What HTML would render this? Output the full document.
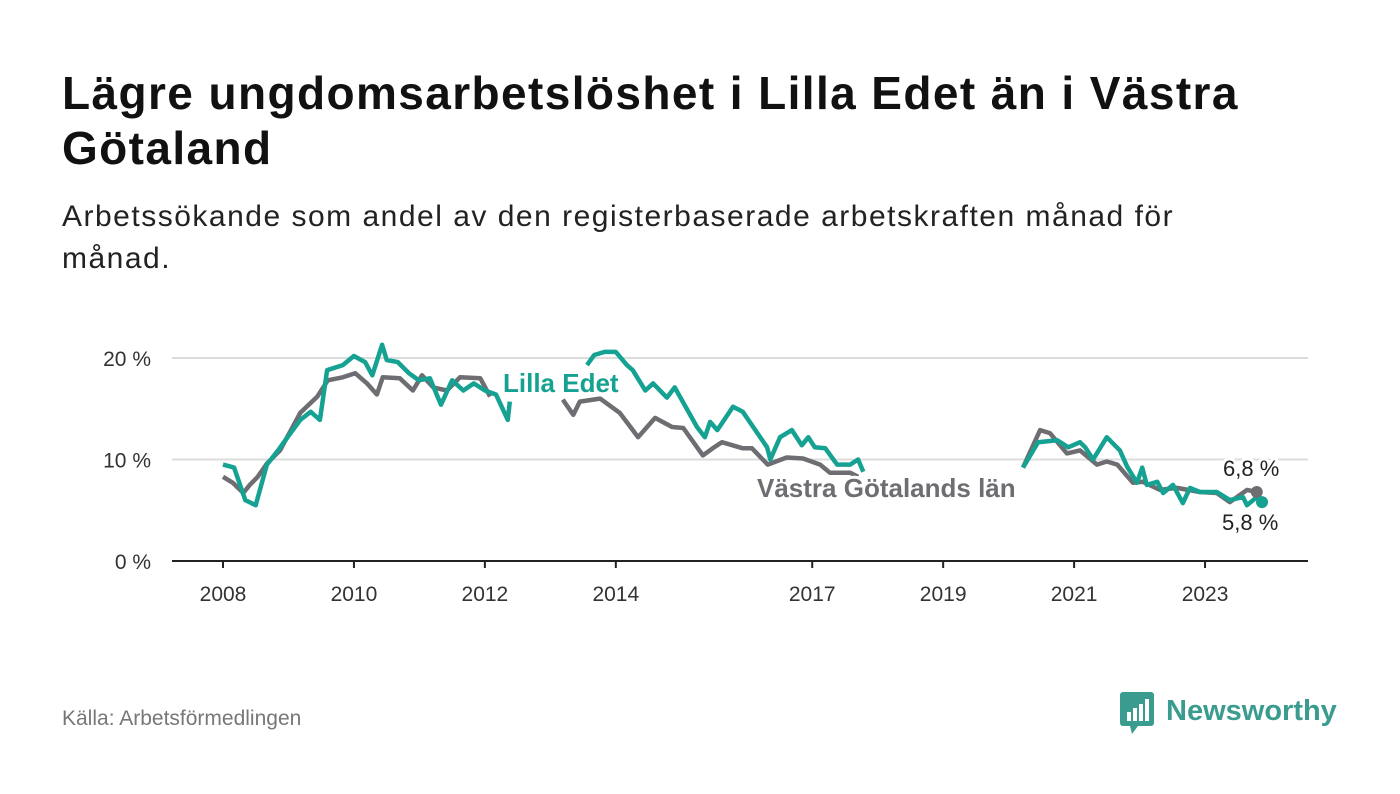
<!DOCTYPE html>
<html><head><meta charset="utf-8"><style>
body{margin:0;background:#fff;width:1400px;height:794px;overflow:hidden;font-family:"Liberation Sans",sans-serif}
#title{position:absolute;left:62px;top:66px;font-size:46px;font-weight:bold;color:#111;line-height:55px;margin:0;width:1330px;letter-spacing:1.4px;white-space:nowrap}
#sub{position:absolute;left:62px;top:196px;font-size:30px;color:#222;line-height:42px;margin:0;width:1330px;letter-spacing:1.5px;white-space:nowrap}
#src{position:absolute;left:62px;top:707px;font-size:21px;color:#777}
#logo{position:absolute;left:1118px;top:690px}
</style></head><body>
<h1 id="title">Lägre ungdomsarbetslöshet i Lilla Edet än i Västra<br>Götaland</h1>
<p id="sub">Arbetssökande som andel av den registerbaserade arbetskraften månad för<br>månad.</p>
<svg id="chart" width="1400" height="794" style="position:absolute;left:0;top:0"></svg>
<div id="src">Källa: Arbetsförmedlingen</div>
<svg id="logo" width="220" height="46">
<rect x="2" y="2" width="34" height="34" rx="3" fill="#3a9b8f"/><polygon points="12,36 20,36 14,44" fill="#3a9b8f"/>
<rect x="9" y="22" width="4" height="9" fill="#fff"/><rect x="15" y="18" width="4" height="13" fill="#fff"/><rect x="21" y="14" width="4" height="17" fill="#fff"/><rect x="27" y="9" width="4" height="22" fill="#fff"/>
<text x="48" y="30" font-size="29" font-weight="bold" fill="#3a9b8f" font-family="Liberation Sans, sans-serif">Newsworthy</text>
</svg>
<script>
const yTicks=[0,10,20];
const yTickLabels=["0 %","10 %","20 %"];
const xTicks=[2008,2010,2012,2014,2017,2019,2021,2023];
const lillaYears=[2008.00,2008.17,2008.34,2008.50,2008.67,2008.84,2009.01,2009.18,2009.34,2009.48,2009.59,2009.83,2010.00,2010.17,2010.28,2010.43,2010.50,2010.67,2010.84,2010.99,2011.16,2011.33,2011.50,2011.67,2011.83,2012.00,2012.17,2012.35,2012.38,2012.9,2013.56,2013.67,2013.83,2014.00,2014.17,2014.26,2014.45,2014.57,2014.78,2014.90,2015.24,2015.36,2015.44,2015.55,2015.79,2015.94,2016.31,2016.36,2016.51,2016.69,2016.84,2016.94,2017.04,2017.20,2017.38,2017.58,2017.70,2017.78,2019.0,2020.22,2020.45,2020.74,2020.91,2021.09,2021.17,2021.29,2021.50,2021.70,2021.81,2021.96,2022.04,2022.11,2022.27,2022.36,2022.51,2022.66,2022.77,2022.92,2023.18,2023.38,2023.58,2023.64,2023.79,2023.87];
const lillaValues=[9.5,9.2,6.0,5.5,9.5,10.9,12.4,13.9,14.7,13.9,18.8,19.3,20.2,19.6,18.3,21.3,19.8,19.6,18.5,17.8,18.0,15.4,17.8,16.8,17.5,16.8,16.4,13.9,15.7,null,19.3,20.3,20.6,20.6,19.3,18.8,16.8,17.5,16.1,17.1,13.2,12.2,13.7,12.9,15.2,14.7,11.2,10.0,12.2,12.9,11.4,12.2,11.2,11.1,9.5,9.5,10.0,8.8,null,9.2,11.7,11.9,11.2,11.7,11.2,10.0,12.2,10.9,9.3,7.7,9.2,7.5,7.8,6.7,7.5,5.7,7.2,6.8,6.8,6.0,6.3,5.5,6.3,5.8];
const vgYears=[2008.00,2008.15,2008.31,2008.41,2008.53,2008.67,2008.87,2009.18,2009.44,2009.60,2009.83,2010.02,2010.20,2010.35,2010.44,2010.70,2010.90,2011.04,2011.21,2011.42,2011.62,2011.93,2012.08,2012.6,2013.19,2013.35,2013.45,2013.76,2014.06,2014.34,2014.60,2014.86,2015.03,2015.33,2015.48,2015.62,2015.94,2016.08,2016.32,2016.61,2016.86,2017.12,2017.27,2017.58,2017.70,2019.0,2020.22,2020.48,2020.63,2020.89,2021.09,2021.35,2021.50,2021.66,2021.90,2022.05,2022.31,2022.57,2022.92,2023.18,2023.38,2023.64,2023.79];
const vgValues=[8.3,7.7,6.7,7.5,8.3,9.6,10.9,14.6,16.2,17.8,18.1,18.5,17.5,16.4,18.1,18.0,16.8,18.3,17.1,16.8,18.1,18.0,16.2,null,15.9,14.4,15.7,16.0,14.6,12.2,14.1,13.2,13.1,10.4,11.1,11.7,11.1,11.1,9.5,10.2,10.1,9.5,8.7,8.7,8.3,null,9.2,12.9,12.6,10.6,10.9,9.5,9.8,9.5,7.7,7.8,7.0,7.2,6.8,6.7,5.8,7.0,6.8];
const NS="http://www.w3.org/2000/svg";
const svg=document.getElementById('chart');
const X=y=>223+(y-2008)*65.47;
const Y=v=>561-v*10.15;
function mk(t,a){const e=document.createElementNS(NS,t);for(const k in a)e.setAttribute(k,a[k]);svg.appendChild(e);return e;}
yTicks.forEach((t,i)=>{
 if(t>0){const g=mk('line',{x1:172,x2:1308,y1:Y(t),y2:Y(t),stroke:'#dcdcdc','stroke-width':2});
 
 }
 const l=mk('text',{x:151,y:Y(t)+8,'text-anchor':'end','font-size':21,fill:'#333'});
 l.textContent=yTickLabels[i];
 
 
});
const ax=mk('line',{x1:172,x2:1308,y1:561,y2:561,stroke:'#222','stroke-width':2});


xTicks.forEach(t=>{
 const tk=mk('line',{x1:X(t),x2:X(t),y1:561,y2:568,stroke:'#222','stroke-width':2});
 
 
 const l=mk('text',{x:X(t),y:601,'text-anchor':'middle','font-size':21,fill:'#333'});
 l.textContent=t;
 
 
});
function path(ys,vs){let d='',pen=false;ys.forEach((y,i)=>{const v=vs[i];if(v==null){pen=false;return;}d+=(pen?'L':'M')+X(y).toFixed(1)+','+Y(v).toFixed(1);pen=true;});return d;}
const vg=mk('path',{d:path(vgYears,vgValues),fill:'none',stroke:'#6e6d72','stroke-width':4.5,'stroke-linejoin':'round'});


const le=mk('path',{d:path(lillaYears,lillaValues),fill:'none',stroke:'#15a292','stroke-width':4.5,'stroke-linejoin':'round'});


const vgl=vgValues.length-1, lel=lillaValues.length-1;
const d1=mk('circle',{cx:X(vgYears[vgl]),cy:Y(vgValues[vgl]),r:6,fill:'#6e6d72'});


const d2=mk('circle',{cx:X(lillaYears[lel]),cy:Y(lillaValues[lel]),r:6,fill:'#15a292'});


function lab(txt,x,y,col,size,bold,name){const t=mk('text',{x:x,y:y,'font-size':size,'font-weight':bold?'bold':'normal',fill:col,stroke:'#fff','stroke-width':6,'paint-order':'stroke','stroke-linejoin':'round'});t.textContent=txt;
 
 }
lab('Lilla Edet',503,392,'#15a292',26,true,'lilla-edet-label');
lab('Västra Götalands län',757,497,'#6e6d72',26,true,'vastra-gotaland-label');
lab(String(vgValues[vgl]).replace('.',',')+' %',1223,476,'#222',22,false,'vastra-gotaland-end-value');
lab(String(lillaValues[lel]).replace('.',',')+' %',1222,530,'#222',22,false,'lilla-edet-end-value');
</script>
</body></html>
